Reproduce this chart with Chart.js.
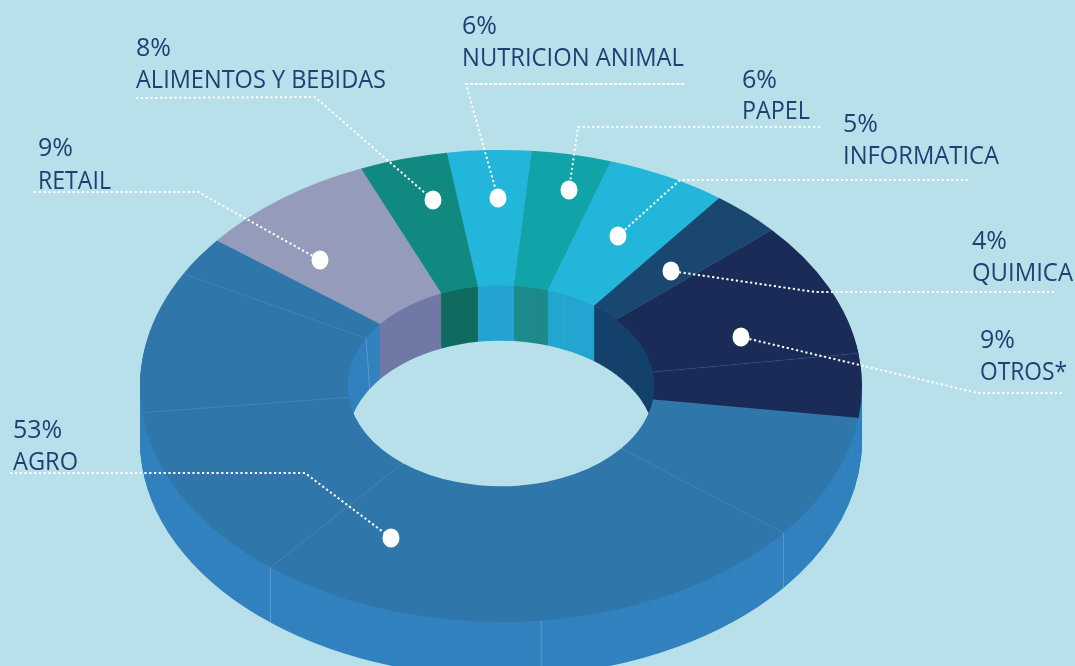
<!DOCTYPE html>
<html>
<head>
<meta charset="utf-8">
<script src="https://cdn.jsdelivr.net/npm/chart.js@4"></script>
<style>
html,body{margin:0;padding:0;background:#B8E0EA;overflow:hidden}
canvas{display:block}
</style>
</head>
<body>
<canvas id="c" width="1075" height="666"></canvas>
<script>
// Slice sweeps as drawn in the picture (degrees of the ring), clockwise from the AGRO/OTROS edge.
const sliceNames = ["AGRO","AGRO","AGRO","AGRO","AGRO","AGRO","RETAIL","ALIMENTOS Y BEBIDAS","NUTRICION ANIMAL","PAPEL","INFORMATICA","QUIMICA","OTROS*","OTROS*"];
const sliceSweeps = [30.7,45.1,46.1,43.8,34.9,9.7,29.1,14.2,13.5,12.8,19.5,11.4,33.4,15.8];
const topColors  = ["#2F77AA","#2F77AA","#2F77AA","#2F77AA","#2F77AA","#2F77AA","#959BBA","#108A80","#22B6DA","#10A3A8","#22B6DA","#1A4770","#192B56","#192B56"];
const wallColors = ["#3282BF","#3282BF","#3282BF","#3282BF","#3282BF","#3282BF","#7079A5","#106B60","#26A3D0","#1E8A8B","#23A6D0","#15426B","#15426B","#15426B"];
const labelNames   = ["ALIMENTOS Y BEBIDAS","RETAIL","NUTRICION ANIMAL","PAPEL","INFORMATICA","QUIMICA","OTROS*","AGRO"];
const labelPercent = ["8%","9%","6%","6%","5%","4%","9%","53%"];

// Annotation layout (pixels)
const labelX      = [136,38,462,742,843,972,980,13];
const labelBase   = [88,189,66,119,164,281,380,470];
const percentBase = [56,156,34,88,132,249,348,438];
const labelWidth  = [250,73,222,68,156,101,87,65];
const leaders = [
 [[136,98],[315,97],[433,200]],
 [[34,192],[198,192],[320,260]],
 [[466,84],[685,84],[466,84],[498,198]],
 [[820,127],[578,127],[569,190]],
 [[968,180],[680,180],[618,236]],
 [[1054,292],[815,292],[671,271]],
 [[1062,393],[978,393],[741,337]],
 [[10,473],[305,473],[391,538]]
];

const CX=501, CY=386, RX=361, RY=236, DEPTH=55;
const INK="#1F3F75";

function toSurface(ctx,arc,d){
  ctx.translate(CX,CY+d);
  ctx.scale(RX/arc.outerRadius,RY/arc.outerRadius);
  ctx.translate(-arc.x,-arc.y);
}
function paintWalls(ctx,arcs,colorFor){
  for(let d=DEPTH;d>=1;d--){
    arcs.forEach((arc,i)=>{
      const saved=arc.options;
      arc.options=Object.assign({},saved,{backgroundColor:colorFor(i),borderWidth:0});
      ctx.save();toSurface(ctx,arc,d);arc.draw(ctx);ctx.restore();
      arc.options=saved;
    });
  }
}
const ring3d={
  id:'ring3d',
  beforeDatasetsDraw(chart){
    const ctx=chart.ctx, arcs=chart.getDatasetMeta(0).data, k=arcs[0].innerRadius/arcs[0].outerRadius;
    // outer wall
    ctx.save();
    ctx.beginPath();ctx.rect(0,0,chart.width,chart.height);
    ctx.ellipse(CX,CY,RX*k,RY*k,0,0,Math.PI*2);ctx.clip('evenodd');
    paintWalls(ctx,arcs,()=>wallColors[0]);
    ctx.restore();
    // inner wall seen through the hole
    ctx.save();
    ctx.beginPath();ctx.ellipse(CX,CY,RX*k,RY*k,0,0,Math.PI*2);ctx.clip();
    paintWalls(ctx,arcs,i=>wallColors[i]);
    arcs.forEach((arc,i)=>{
      const prev=(i+arcs.length-1)%arcs.length;
      const s=Math.sin(arc.startAngle);
      if(topColors[prev]===topColors[i] && s<0 && Math.cos(arc.startAngle)<0){
        const x=CX+RX*k*Math.cos(arc.startAngle), y=CY+RY*k*s;
        ctx.strokeStyle='rgba(255,255,255,.2)';ctx.lineWidth=1;
        ctx.beginPath();ctx.moveTo(x,y);ctx.lineTo(x+4,y+DEPTH);ctx.stroke();
      }
    });
    ctx.restore();
    // top surface uses the same projection
    ctx.save();
    toSurface(ctx,arcs[0],0);
  },
  afterDatasetsDraw(chart){
    const ctx=chart.ctx, arcs=chart.getDatasetMeta(0).data, k=arcs[0].innerRadius/arcs[0].outerRadius;
    ctx.restore();
    // hairlines between slices
    ctx.lineWidth=1;
    arcs.forEach((arc,i)=>{
      const c=Math.cos(arc.startAngle), s=Math.sin(arc.startAngle);
      const prev=(i+arcs.length-1)%arcs.length;
      const same=topColors[prev]===topColors[i];
      ctx.strokeStyle=same?(Math.abs(c)<.2?'rgba(0,0,0,.03)':'rgba(255,255,255,.09)'):'rgba(255,255,255,.04)';
      const ox=CX+RX*c, oy=CY+RY*s;
      ctx.beginPath();ctx.moveTo(CX+RX*k*c,CY+RY*k*s);ctx.lineTo(ox,oy);ctx.stroke();
      if(same && s>0 && Math.abs(c)<.9){
        ctx.strokeStyle='rgba(255,255,255,.2)';
        ctx.beginPath();ctx.moveTo(ox,oy);ctx.lineTo(ox,oy+DEPTH);ctx.stroke();
      }
    });
    // leaders
    ctx.save();
    ctx.strokeStyle='#fff';ctx.lineWidth=2;ctx.setLineDash([2.2,2.6]);
    leaders.forEach(p=>{
      ctx.beginPath();
      p.forEach((q,i)=>i?ctx.lineTo(q[0],q[1]):ctx.moveTo(q[0],q[1]));
      ctx.stroke();
    });
    ctx.setLineDash([]);ctx.fillStyle='#fff';
    leaders.forEach(p=>{
      const q=p[p.length-1];
      ctx.beginPath();ctx.ellipse(q[0],q[1],8.5,9.5,0,0,Math.PI*2);ctx.fill();
    });
    // labels
    ctx.fillStyle=INK;ctx.textBaseline='alphabetic';ctx.textAlign='left';
    ctx.font='25px "Open Sans"';
    labelNames.forEach((n,i)=>{
      ctx.fillText(n,labelX[i],labelBase[i],labelWidth[i]);
      ctx.fillText(labelPercent[i],labelX[i],percentBase[i]);
    });
    ctx.restore();
  }
};
new Chart(document.getElementById('c'),{
  type:'doughnut',
  data:{labels:sliceNames,datasets:[{data:sliceSweeps,backgroundColor:topColors,borderWidth:0,clip:false}]},
  options:{
    responsive:false,animation:false,rotation:97.8,cutout:'42.5%',
    layout:{padding:0},
    plugins:{legend:{display:false},tooltip:{enabled:false}}
  },
  plugins:[ring3d]
});
</script>
</body>
</html>
